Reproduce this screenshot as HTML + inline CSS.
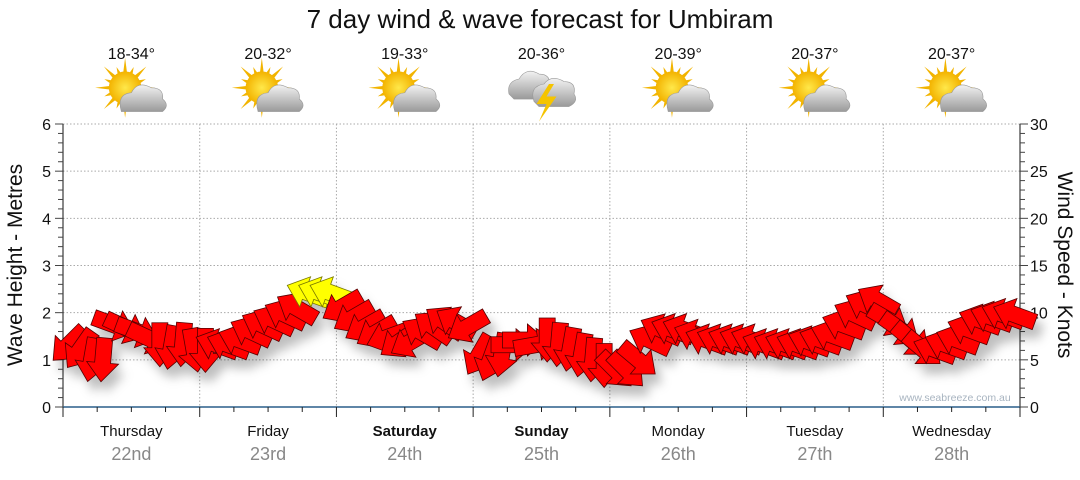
<!DOCTYPE html>
<html><head><meta charset="utf-8"><style>
body{margin:0;background:#fff;width:1080px;height:475px;overflow:hidden;font-family:"Liberation Sans","DejaVu Sans",sans-serif}
svg text{font-family:"Liberation Sans","DejaVu Sans",sans-serif}
</style></head><body>
<svg id="chart" width="1080" height="475" xmlns="http://www.w3.org/2000/svg">
<defs>
<filter id="sh" x="-50%" y="-50%" width="200%" height="200%"><feDropShadow dx="6" dy="10" stdDeviation="5" flood-color="#000" flood-opacity="0.25"/></filter>
<radialGradient id="sun" cx="50%" cy="50%" r="50%"><stop offset="0" stop-color="#ffe84a"/><stop offset="1" stop-color="#f3b300"/></radialGradient>
<linearGradient id="cloud" x1="0" y1="0" x2="0" y2="1"><stop offset="0" stop-color="#f2f2f2"/><stop offset="1" stop-color="#9a9a9a"/></linearGradient>
</defs>
<text x="540" y="28" font-size="26" text-anchor="middle" fill="#111">7 day wind &amp; wave forecast for Umbiram</text>
<g id="grid"></g><g id="axes"></g><g id="header"></g><g id="arrows" filter="url(#sh)"></g>
<text x="955" y="401" font-size="10.5" fill="#a8b4c0" text-anchor="middle">www.seabreeze.com.au</text>
<text transform="translate(22,265) rotate(-90)" font-size="21" text-anchor="middle" fill="#111">Wave Height - Metres</text>
<text transform="translate(1058,265) rotate(90)" font-size="21" text-anchor="middle" fill="#111">Wind Speed - Knots</text>
</svg>
<script>
const days=["Thursday","Friday","Saturday","Sunday","Monday","Tuesday","Wednesday"];
const dates=["22nd","23rd","24th","25th","26th","27th","28th"];
const boldDays=[false,false,true,true,false,false,false];
const temps=["18-34°","20-32°","19-33°","20-36°","20-39°","20-37°","20-37°"];
const icons=["sun","sun","sun","storm","sun","sun","sun"];
const waveTicks=[0,1,2,3,4,5,6];
const windTicks=[0,5,10,15,20,25,30];
// wind speed (knots), 2-hourly
const windSpeed=[6.6,6.1,5.0,5.0,8.7,8.4,8.0,7.3,6.6,6.3,6.6,6.0,
 6.0,6.6,6.6,7.1,8.0,8.7,9.2,9.8,10.5,12.1,12.1,12.1,
 10.6,9.5,8.5,7.9,7.4,6.9,6.9,7.9,8.5,9.0,9.0,8.5,
 5.5,5.0,5.5,6.6,7.1,6.6,7.1,6.6,6.1,5.5,5.0,4.4,
 3.9,3.9,5.0,7.1,8.2,8.2,8.2,7.6,7.1,7.1,7.1,7.1,
 7.1,6.6,6.6,6.6,6.6,6.9,7.1,7.6,8.7,9.8,10.8,11.3,
 9.2,8.2,7.1,6.1,6.1,6.6,7.1,8.2,9.2,9.5,9.8,9.8];
// arrow pointing angle (deg, screen coords: 0=right, 90=down)
const windDir=[135,125,100,95,20,25,20,25,90,100,95,80,
 90,200,200,200,205,205,205,205,210,200,200,200,
 150,150,150,150,160,145,150,210,215,215,210,150,
 120,110,100,0,0,350,90,95,100,100,95,90,
 45,45,40,205,205,200,200,200,200,200,200,200,
 200,200,200,200,200,200,200,200,200,205,205,210,
 30,35,40,40,200,200,200,200,200,200,200,200];
const X0=63,X1=1020,Y0=407,Y1=124;
const dayW=(X1-X0)/7;
const yWave=m=>Y0-(Y0-Y1)*m/6;
const yKt=k=>Y0-(Y0-Y1)*k/30;
const xIdx=i=>X0+(i+0.5)*dayW/12;
const NS="http://www.w3.org/2000/svg";
function mk(tag,attrs,parent,txt){const e=document.createElementNS(NS,tag);for(const k in attrs)e.setAttribute(k,attrs[k]);if(txt!==undefined)e.textContent=txt;parent.appendChild(e);return e;}
const grid=document.getElementById('grid'),axes=document.getElementById('axes'),hdr=document.getElementById('header'),arr=document.getElementById('arrows');
waveTicks.forEach(m=>{if(m>0){const l=mk('line',{x1:X0,x2:X1,y1:yWave(m),y2:yWave(m),stroke:'#aaa','stroke-dasharray':'1.5,2'},grid);

}
const t=mk('text',{x:X0-12,y:yWave(m)+6,'font-size':16,'text-anchor':'end',fill:'#111'},axes,String(m));

});
windTicks.forEach(k=>{const t=mk('text',{x:X1+10,y:yKt(k)+6,'font-size':16,fill:'#111'},axes,String(k));

});
for(let i=1;i<7;i++){const l=mk('line',{x1:X0+i*dayW,x2:X0+i*dayW,y1:Y1,y2:Y0,stroke:'#aaa','stroke-dasharray':'1.5,2'},grid);

}
mk('line',{x1:X0,x2:X0,y1:Y1,y2:Y0,stroke:'#111'},axes);
mk('line',{x1:X1,x2:X1,y1:Y1,y2:Y0,stroke:'#111'},axes);
mk('line',{x1:X0,x2:X1,y1:Y0,y2:Y0,stroke:'#2a5f8a','stroke-width':1.5},axes);
for(let m=0;m<=30;m++){const y=Y0-(Y0-Y1)*m/30;const w=m%5==0?8:5;
mk('line',{x1:X0-w,x2:X0,y1:y,y2:y,stroke:'#444'},axes);
mk('line',{x1:X1,x2:X1+w,y1:y,y2:y,stroke:'#444'},axes);}
for(let j=0;j<=28;j++){const x=X0+j*dayW/4;mk('line',{x1:x,x2:x,y1:Y0,y2:Y0+(j%4==0?10:5),stroke:'#222'},axes);}
days.forEach((d,i)=>{const cx=X0+(i+0.5)*dayW;
const t=mk('text',{x:cx,y:436,'font-size':15,'text-anchor':'middle',fill:'#111','font-weight':boldDays[i]?'bold':'normal'},axes,d);


const t2=mk('text',{x:cx,y:460,'font-size':18,'text-anchor':'middle',fill:'#888'},axes,dates[i]);


const t3=mk('text',{x:cx,y:59,'font-size':16,'text-anchor':'middle',fill:'#111'},hdr,temps[i]);


const g=mk('g',{transform:`translate(${cx},94) scale(1.25)`},hdr);


if(icons[i]=='sun'){
 for(let a=0;a<16;a++){const r=a%2?18:24;const an=a*Math.PI/8;mk('polygon',{points:`${Math.cos(an-0.15)*11-5},${Math.sin(an-0.15)*11-5} ${Math.cos(an)*r-5},${Math.sin(an)*r-5} ${Math.cos(an+0.15)*11-5},${Math.sin(an+0.15)*11-5}`,fill:'#f2b400'},g);}
 mk('circle',{cx:-5,cy:-5,r:13,fill:'url(#sun)'},g);
 mk('path',{d:'M-8,14 Q-12,0 0,-1 Q5,-11 16,-5 Q26,-5 25,4 Q31,9 25,14 Z',fill:'url(#cloud)',stroke:'#999','stroke-width':0.5},g);
}else{
 mk('path',{d:'M-26,0 Q-28,-10 -18,-12 Q-12,-22 -2,-16 Q8,-16 6,-6 Q10,0 4,4 L-22,4 Z',fill:'url(#cloud)',stroke:'#999','stroke-width':0.5},g);
 mk('path',{d:'M-6,6 Q-10,-6 2,-8 Q8,-16 18,-10 Q28,-10 26,0 Q30,6 22,10 L-2,10 Z',fill:'url(#cloud)',stroke:'#999','stroke-width':0.5},g);
 mk('polygon',{points:'6,-8 -4,8 4,8 -2,22 12,2 4,2 10,-8',fill:'#f5c400'},g);
}});
windSpeed.forEach((k,i)=>{const x=xIdx(i),y=yKt(k);
const col=k>=12?'#ffff00':'#ff0000',st=k>=12?'#777700':'#550000';
const p=mk('polygon',{points:'-22,-8 3,-8 3,-16 22,0 3,16 3,8 -22,8',fill:col,stroke:st,'stroke-width':0.8,transform:`translate(${x},${y}) rotate(${windDir[i]})`},arr);

});
</script>
</body></html>
